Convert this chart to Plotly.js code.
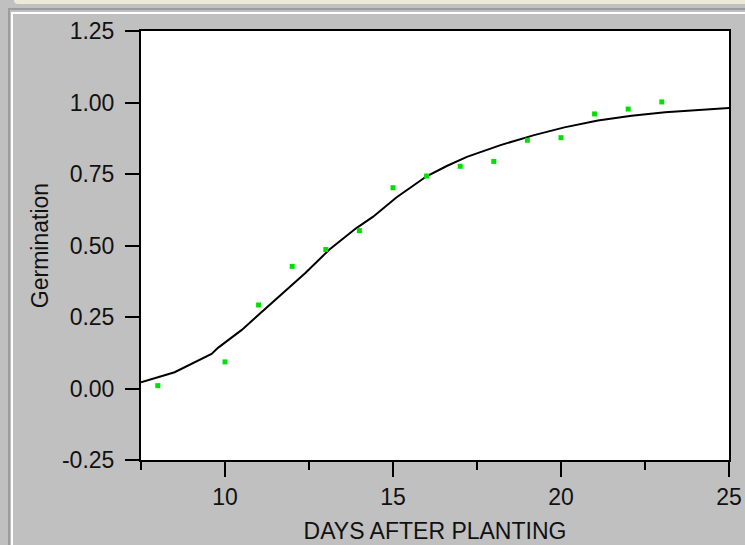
<!DOCTYPE html>
<html>
<head>
<meta charset="utf-8">
<script src="https://cdn.plot.ly/plotly-3.0.1.min.js"></script>
<style>
  html, body { margin: 0; padding: 0; background: #c0c0c0; width: 745px; height: 545px; overflow: hidden; }
  .deco { position: absolute; }
  #topStrip { left: 14px; top: 0; width: 731px; height: 4px; background: #ece9d8; border-bottom-left-radius: 6px; }
  #hDark { left: 8px; top: 8px; width: 737px; height: 2px; background: #9c9c9c; }
  #hLight { left: 11px; top: 12px; width: 734px; height: 2px; background: #ffffff; }
  #vDark { left: 8px; top: 8px; width: 2px; height: 537px; background: #9c9c9c; }
  #vLight { left: 11px; top: 12px; width: 2px; height: 533px; background: #ffffff; }
  #chart { position: absolute; left: 0; top: 0; width: 745px; height: 545px; }
</style>
</head>
<body>
<div class="deco" id="topStrip"></div>
<div class="deco" id="hDark"></div>
<div class="deco" id="hLight"></div>
<div class="deco" id="vDark"></div>
<div class="deco" id="vLight"></div>
<div id="chart"></div>
<script>
// Observed germination (green points)
const days = [8, 10, 11, 12, 13, 14, 15, 16, 17, 18, 19, 20, 21, 22, 23];
const germination = [0.01, 0.093, 0.292, 0.427, 0.486, 0.552, 0.702, 0.743, 0.777, 0.794, 0.868, 0.877, 0.96, 0.977, 1.002];

// Fitted curve (black line)
const fitDays = [7.5, 8.5, 9.6, 9.8, 10.5, 11.3, 12.4, 13.1, 13.9, 14.4, 15.1, 16.0, 16.6, 17.2, 18.2, 19.2, 20.1, 21.1, 22.1, 23.1, 24.1, 25];
const fitValues = [0.022, 0.057, 0.121, 0.143, 0.205, 0.29, 0.405, 0.485, 0.56, 0.6, 0.668, 0.742, 0.778, 0.81, 0.851, 0.886, 0.913, 0.937, 0.954, 0.966, 0.974, 0.981];

// Axis ticks
const xTickVals = [10, 15, 20, 25];
const yTickVals = [-0.25, 0, 0.25, 0.5, 0.75, 1.0, 1.25];
const yTickText = ['-0.25', '0.00', '0.25', '0.50', '0.75', '1.00', '1.25'];

const FONT = 'Liberation Sans, Arial, sans-serif';

const traces = [
  {
    x: fitDays, y: fitValues, type: 'scatter', mode: 'lines',
    line: { color: '#000000', width: 2 }, hoverinfo: 'skip', showlegend: false
  },
  {
    x: days, y: germination, type: 'scatter', mode: 'markers',
    marker: { color: '#00e000', size: 5, symbol: 'square' }, showlegend: false
  }
];

const layout = {
  width: 745, height: 545,
  margin: { l: 141, r: 16, t: 31, b: 85, pad: 0 },
  paper_bgcolor: 'rgba(0,0,0,0)',
  plot_bgcolor: '#ffffff',
  font: { family: FONT, size: 23, color: '#111111' },
  showlegend: false,
  xaxis: {
    range: [7.5, 25], autorange: false,
    tickmode: 'array', tickvals: xTickVals, ticktext: xTickVals.map(String),
    ticks: 'outside', ticklen: 15, tickwidth: 2, tickcolor: '#000',
    minor: { dtick: 2.5, tick0: 0, ticks: 'outside', ticklen: 8, tickwidth: 2, tickcolor: '#000' },
    showgrid: false, zeroline: false,
    showline: true, linecolor: '#000', linewidth: 2, mirror: true,
    tickfont: { family: FONT, size: 23, color: '#111' },
    ticklabelstandoff: 0,
    title: { text: 'DAYS AFTER PLANTING', font: { family: FONT, size: 23, color: '#111' }, standoff: 14 }
  },
  yaxis: {
    range: [-0.25, 1.25], autorange: false,
    tickmode: 'array', tickvals: yTickVals, ticktext: yTickText,
    ticks: 'outside', ticklen: 14, tickwidth: 2, tickcolor: '#000',
    showgrid: false, zeroline: false,
    showline: true, linecolor: '#000', linewidth: 2, mirror: true,
    tickfont: { family: FONT, size: 23, color: '#111' },
    ticklabelstandoff: 6,
    title: { text: 'Germination', font: { family: FONT, size: 23, color: '#111' }, standoff: 7 }
  }
};

Plotly.newPlot('chart', traces, layout, { staticPlot: true, displayModeBar: false });
</script>
</body>
</html>
